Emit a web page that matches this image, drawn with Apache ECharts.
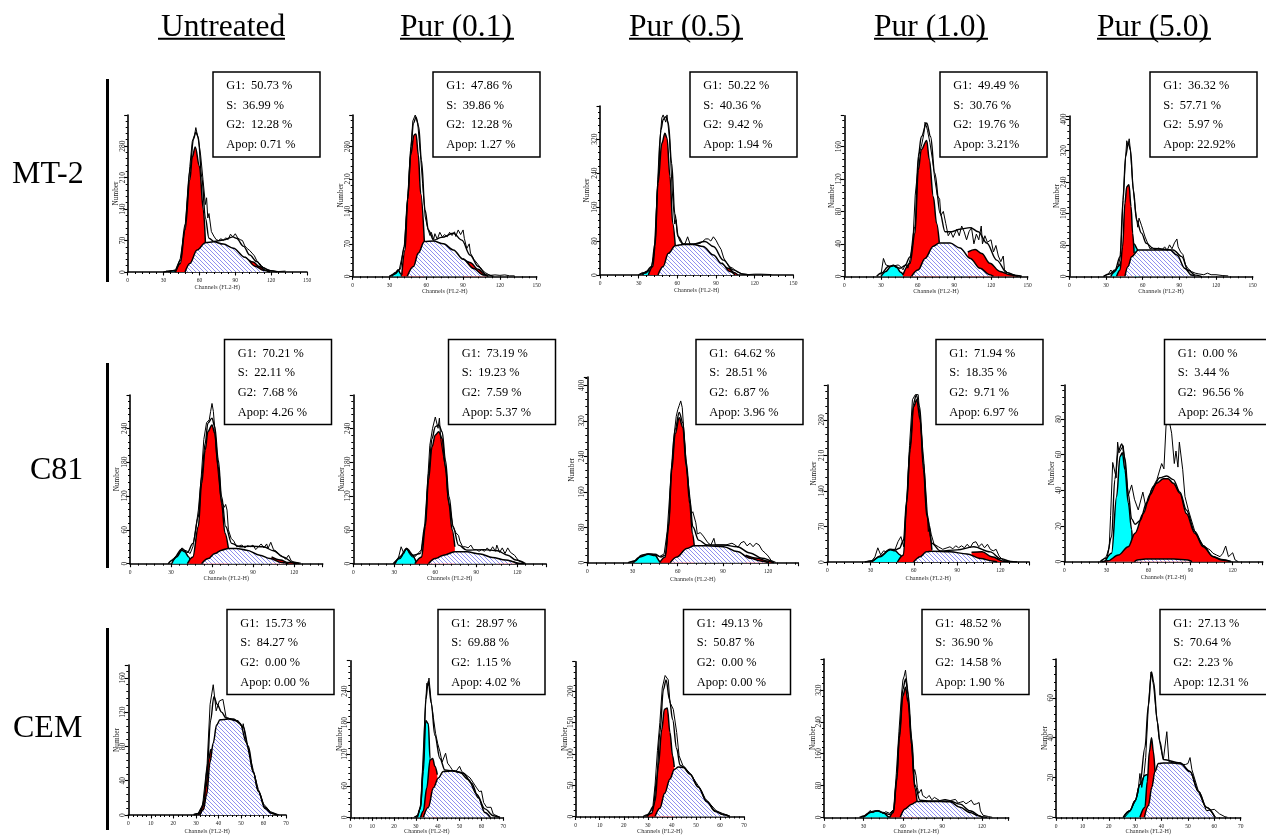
<!DOCTYPE html>
<html><head><meta charset="utf-8">
<script src="https://cdn.jsdelivr.net/npm/echarts@6/dist/echarts.min.js"></script>
<style>html,body{margin:0;padding:0;background:#fff}#c{width:1266px;height:835px}</style>
</head><body><div id="c"></div>
<script>
// ---------- text ----------
const columnTitles = ['Untreated','Pur (0.1)','Pur (0.5)','Pur (1.0)','Pur (5.0)'];
const rowTitles = ['MT-2','C81','CEM'];
const stats = [
 [[50.73,36.99,12.28,0.71],[47.86,39.86,12.28,1.27],[50.22,40.36,9.42,1.94],[49.49,30.76,19.76,3.21],[36.32,57.71,5.97,22.92]],
 [[70.21,22.11,7.68,4.26],[73.19,19.23,7.59,5.37],[64.62,28.51,6.87,3.96],[71.94,18.35,9.71,6.97],[0.00,3.44,96.56,26.34]],
 [[15.73,84.27,0.00,0.00],[28.97,69.88,1.15,4.02],[49.13,50.87,0.00,0.00],[48.52,36.90,14.58,1.90],[27.13,70.64,2.23,12.31]]
];
// ---------- MT-2 ----------
const mt2a_apop=[[34,0],[38,3],[41,0]];
const mt2a_g1=[[40,0],[44,19],[48,94],[52,205],[54,255],[56.5,278],[60,235],[63.3,138],[65,66]];
const mt2a_g2=[[98,33],[105,22],[110,12],[116,3],[119,0]];
const mt2a_s=[[48,0],[52,19],[58,49],[65,65],[72,67],[80,62],[88.4,53],[98,33],[106.5,13],[113.5,4],[119,0]];
const mt2a_model=[[30,0],[40,3],[44,25],[48,105],[52,225],[55,295],[57,311],[59,300],[62,210],[65,120],[68,75],[72,68],[80,71],[88,78],[91,75],[97,57],[102,38],[108,23],[113,10],[119,3],[125,0]];
const mt2a_raw=[[32,2],[36,2],[40,5],[44,30],[48,100],[52,235],[54,290],[56,305],[57,321],[59,295],[61,260],[63,205],[65,150],[66,165],[67,120],[68,130],[70,90],[72,80],[74,72],[76,70],[78,74],[80,70],[82,76],[84,72],[86,84],[88,78],[90,85],[92,76],[94,72],[96,70],[98,58],[100,52],[102,48],[104,42],[106,36],[108,25],[110,20],[112,14],[114,9],[116,6],[120,3],[126,1],[132,2]];

const mt2b_apop=[[32,0],[35,8],[37,14],[39,6],[40,0]];
const mt2b_g1=[[40,3],[42.7,57],[44.8,165],[47.3,262],[50,305],[51.6,307],[53.5,262],[55.4,179],[58.4,75]];
const mt2b_g2=[[90,38],[95.6,30],[102.4,15],[108,3],[110,0]];
const mt2b_s=[[44.5,0],[49.5,21],[53.5,50],[58.4,75],[65.8,76],[74,70],[82,57],[90,37],[98.4,17],[106.5,3],[110.6,0]];
const mt2b_model=[[30,0],[34.5,5],[38.6,15],[42,64],[45,172],[47.5,280],[49.5,330],[51.6,343],[53.8,323],[56,251],[59,143],[61.7,100],[66,78],[72.6,84],[82,93],[89,78],[95.6,46],[102.4,21],[109,3],[114.7,0]];
const mt2b_raw=[[30,1],[34,4],[38,15],[42,64],[45,178],[47,260],[49,335],[51,348],[53,330],[55,270],[57,200],[59,130],[61,105],[63,88],[64,95],[66,80],[67,92],[69,80],[71,95],[73,85],[75,90],[77,85],[79,95],[81,88],[83,96],[84,86],[86,100],[88,90],[90,100],[91,82],[93,60],[95,70],[96,50],[99,36],[102,26],[105,15],[108,8],[112,2],[116,3],[120,2],[124,3],[128,1],[132,1]];

const mt2c_apop=[[33,0],[36,8],[38,10],[40,0]];
const mt2c_g1=[[37.5,0],[41,20],[42.7,67],[45,216],[48,310],[50.4,334],[52,322],[54.3,232],[56.4,122],[58.4,69]];
const mt2c_g2=[[94.4,29],[99.6,16],[104,6],[107,0]];
const mt2c_s=[[45,0],[49,20],[53,51],[58.4,69],[64.6,72],[72.4,72],[80,67],[88,47],[94.4,27],[100.9,8],[104.7,0]];
const mt2c_model=[[30,0],[35,5],[40,20],[42.7,75],[45,224],[47.3,342],[49,366],[51,373],[53,358],[55.6,263],[58,145],[60.8,90],[64.6,73],[72.4,73],[81.5,79],[88,67],[95.7,35],[103.4,12],[111,2],[116,0]];
const mt2c_raw=[[30,1],[33,6],[36,4],[38,12],[40,20],[42,50],[44,170],[46,300],[48,370],[49,377],[51,360],[52,377],[54,320],[56,200],[58,120],[59,130],[60,95],[62,80],[64,72],[66,74],[68,90],[70,72],[74,72],[78,75],[80,80],[82,85],[84,85],[86,80],[88,90],[90,82],[92,70],[94,60],[96,40],[98,30],[100,20],[103,16],[106,8],[110,3],[115,1],[120,2],[125,2],[133,1]];

const mt2d_apop=[[30,0],[34,6],[38,12],[40,13.5],[43,11],[46,5],[49,0]];
const mt2d_g1=[[48,2],[53.7,16],[57.8,53],[60.5,131],[63,156],[67.4,167.5],[69.5,144],[72.8,98],[75.5,65],[77.7,41.5]];
const mt2d_g2=[[101,30],[107,33],[112.4,28],[119,16],[127.4,6],[135.5,2],[142,0]];
const mt2d_s=[[55,0],[60.5,8],[66,22],[72.8,37],[77.7,41],[86.5,41],[94.6,35],[103,22],[111,10],[119,2],[122,0]];
const mt2d_model=[[26.5,0],[30.5,4],[36,12],[40,13.5],[45.5,10],[49.6,13],[53.7,24],[57.8,61],[60.5,148],[63,172],[67.4,189],[70.6,172],[74,127],[78.3,78],[82.4,55],[88,55],[94.6,58],[103,60],[109.6,55],[116.5,41],[124.6,20],[133,4.5],[141,1],[145,0]];
const mt2d_raw=[[30,2],[32,22],[34,14],[38,12],[41,13],[44,14],[46,12],[48,8],[50,15],[52,10],[54,22],[56,40],[58,100],[60,130],[61,150],[63,160],[65,175],[66,190],[67,186],[68,180],[70,165],[72,145],[74,120],[76,100],[78,95],[79,75],[81,80],[83,65],[85,50],[87,55],[89,48],[92,58],[94,50],[96,62],[98,55],[100,45],[102,55],[104,60],[106,40],[108,52],[110,45],[112,62],[113,40],[115,50],[117,42],[120,45],[122,30],[124,38],[126,25],[128,18],[130,25],[131,8],[134,4],[140,1],[145,0]];

const mt2e_apop=[[34,0],[37,12],[40,25],[45,50],[50,75],[53,82],[56,68],[57,0]];
const mt2e_g1=[[38.7,0],[41.5,16],[43.6,75],[45.5,186],[47,228],[48.8,233],[50.5,177],[51.8,110],[53,59]];
const mt2e_g2=[];
const mt2e_s=[[45.5,0],[48,25],[51,50],[56.5,67],[66,67],[82.4,67],[88,54],[94.6,20],[100,3],[103,0]];
const mt2e_model=[[28,0],[33,6],[37.4,16],[41.5,50],[44,194],[46,305],[48.3,339],[50,322],[52.4,220],[55,143],[59,110],[63,84],[68.7,71],[77,69],[85,67],[92,50],[97,16],[103,3],[108,0]];
const mt2e_raw=[[28,0],[32,6],[34,16],[36,8],[38,14],[40,25],[42,55],[44,200],[46,300],[47,345],[48,335],[49,350],[50,320],[52,230],[54,170],[56,125],[57,148],[59,130],[60,120],[62,100],[64,85],[66,70],[68,72],[70,68],[73,72],[76,68],[78,75],[80,66],[82,80],[84,70],[86,85],[88,95],[89,75],[91,62],[93,55],[95,30],[97,20],[100,12],[103,8],[106,6],[110,4],[113,8],[116,4],[120,4],[125,2],[130,1]];
// ---------- C81 ----------
const c81a_apop=[[30.5,0],[34,12],[38,24],[40,21],[43,12],[44.4,0]];
const c81a_g1=[[42,0],[46,12],[50,66],[52.4,142],[55,201],[57,234],[60,246],[62,231],[64.6,172],[67,107],[69.5,54],[72,27]];
const c81a_g2=[[103.6,12],[110,6.5],[116,2],[122,0]];
const c81a_s=[[52.4,0],[57.3,9],[62,18],[67,24],[72,27],[78,27],[85.4,24],[95,15],[102.4,9],[111,2],[116,0]];
const c81a_model=[[28,0],[31,6],[38,26],[42,20],[46,36],[50,83],[52.4,154],[55,213],[57,249],[60,258],[62,243],[64.6,184],[67,119],[70,66],[74.4,36],[80.5,30],[88,31],[97.6,30],[105,23],[112,12],[119.5,2],[124,0]];
const c81a_raw=[[28,0],[32,10],[34,14],[36,20],[38,28],[40,24],[42,22],[44,18],[46,30],[48,60],[50,95],[52,150],[54,220],[56,250],[57,252],[58,255],[59,270],[60,284],[61,270],[62,240],[63,200],[64,175],[66,125],[67,110],[69,100],[70,105],[71,95],[72,60],[74,45],[76,40],[78,30],[80,32],[82,33],[84,28],[86,32],[88,30],[90,33],[92,25],[94,30],[96,35],[98,28],[100,35],[101,27],[103,38],[105,25],[107,22],[110,15],[112,12],[114,8],[116,15],[118,5],[120,3],[125,1]];

const c81b_apop=[[30.6,0],[34,12],[39,26],[43,15],[46.5,0]];
const c81b_g1=[[45,0],[50,12],[52.7,66],[55,148],[57.6,207],[60,228],[62.5,234],[65,222],[67.4,172],[69.9,107],[72.3,60],[74.3,30]];
const c81b_g2=[[105.5,9],[113,5],[121,1],[125,0]];
const c81b_s=[[55,0],[60,9],[66,15],[74.3,21],[83,21],[93,17],[101.7,11],[111.5,6.5],[120,0]];
const c81b_model=[[29.4,0],[34,9],[39,27],[44,15],[49,18],[52.7,71],[55,160],[57.6,222],[60,243],[62.5,246],[65,234],[67.4,184],[70,119],[73,66],[77,33],[83,24],[95.6,25],[105.4,23],[113,15],[119,6.5],[126,0]];
const c81b_raw=[[29,0],[33,10],[35,30],[37,18],[39,28],[41,18],[43,12],[45,12],[48,20],[50,25],[52,60],[54,130],[56,210],[58,240],[60,260],[61,262],[62,240],[63,258],[64,220],[66,190],[68,160],[69,120],[71,95],[73,65],[75,55],[77,50],[78,40],[80,30],[82,30],[84,28],[86,33],[88,25],[90,25],[92,22],[94,25],[96,22],[98,28],[100,22],[102,30],[104,22],[105,33],[107,20],[109,28],[111,18],[113,28],[115,20],[118,15],[121,5],[125,1]];

const c81c_apop=[[30.6,0],[35,13],[40.6,19],[45,16],[48.4,2],[49.5,0]];
const c81c_g1=[[48,0],[51.7,13],[54,81],[56,208],[58.3,290],[61,327],[63.4,305],[65.7,215],[68,133],[69.7,66],[71,38]];
const c81c_g2=[[105,17],[112.7,10],[119.4,4],[123.8,0]];
const c81c_s=[[55,0],[59.4,13],[66,32],[71,38],[79.4,38],[90.5,36],[99.4,25],[108,10],[115,4],[120.5,0]];
const c81c_model=[[27,0],[31.7,4],[36,17],[40.6,20],[45,19],[48.8,13],[51.7,17],[54,88],[56,220],[58.3,301],[61,339],[63.4,316],[65.7,227],[68,144],[70,81],[73.9,51],[79.4,40],[90.5,40],[99.4,36],[108,22],[116,10],[123.8,0]];
const c81c_raw=[[27,0],[32,5],[36,16],[40,20],[44,18],[48,14],[51,20],[53,70],[55,170],[57,270],[59,330],[60,345],[61,355],[62,365],[63,350],[64,300],[66,210],[68,150],[69,110],[70,115],[72,90],[73,65],[75,68],[77,60],[78,62],[80,45],[82,40],[84,55],[85,40],[88,40],[92,40],[96,44],[98,40],[100,35],[102,45],[104,48],[106,38],[108,44],[110,36],[112,44],[114,40],[116,28],[118,22],[120,15],[122,5],[125,1]];

const c81d_apop=[[30.8,0],[36.6,10.5],[43.5,24],[47,22],[50.5,14],[52.8,0]];
const c81d_g1=[[48.6,0],[52.8,14],[55,116],[57.4,221],[59.8,306],[62,320],[64.4,280],[66.7,181],[69,89],[72.5,24]];
const c81d_g2=[[100,19],[107.3,20],[114,10.5],[122.3,1.3],[125.8,0]];
const c81d_s=[[59.8,0],[64.4,10.5],[68.6,20],[72.5,21],[85,20],[96.8,16],[106,7],[115.4,1.3],[117.7,0]];
const c81d_model=[[26,0],[30.8,2],[36.6,12],[43.5,25],[47,24],[50,27],[52.8,43],[55,122],[57.4,228],[59.8,313],[61.6,329],[64,306],[66.7,195],[69,96],[72.5,37],[78.3,22],[90,24],[101.5,30],[113,20],[120,7],[127,1],[131.6,0]];
const c81d_raw=[[26,0],[31,3],[33,10],[35,28],[37,14],[39,22],[41,20],[44,25],[47,25],[49,40],[51,50],[53,30],[55,120],[57,230],[59,320],[61,330],[62,332],[63,330],[65,260],[67,195],[69,110],[70,60],[71,70],[72,55],[74,35],[77,30],[80,25],[83,28],[85,30],[87,26],[89,32],[91,28],[93,32],[95,28],[97,35],[99,28],[101,38],[103,40],[105,30],[107,36],[109,28],[111,35],[113,25],[115,22],[117,25],[119,12],[122,3],[127,1]];

const c81e_apop=[[29,0],[33.7,4.7],[37.3,36.5],[39.7,59],[41.4,61],[43.2,51.5],[45.6,33],[48,18],[48.7,10],[49,0]];
const c81e_g1=[[26.6,0],[31,0.5],[38.5,3.7],[45.6,8.4],[50.4,16],[56.3,27],[61,37.5],[65.8,44],[70.6,46.5],[74,46.5],[77.7,44],[82.4,38.4],[87,27],[93,16],[99,8.4],[106,2.8],[112,1],[119,0]];
const c81e_g2=[];
const c81e_s=[[50,0],[52,1],[58,1.5],[78,1.5],[88,1],[91,0]];
const c81e_model=[[25.4,0],[30,2],[33.7,14],[36,46],[38.5,62],[41,66],[43.2,58],[45.6,38],[48,24],[50.4,21],[54,23],[58.7,33],[63.4,42],[68,47],[73,48],[77.7,46],[82.4,39],[87,29],[93,17],[99,9],[106,3],[112,1.3],[119,0]];
const c81e_raw=[[26,0],[30,3],[32,8],[33,26],[34.5,55.6],[37,47],[38,67],[39,61],[42,65],[44,50],[45.6,37],[48,43],[50,35],[52.7,29],[56,39],[58,31],[62,40],[66,46],[69.4,55],[71,52],[72.5,76],[74,82],[76.5,72],[78.4,55],[79.6,62],[81,53],[82,67],[84.4,51.5],[86,36.5],[88.4,29],[93,17],[99,9],[104,6.5],[106,4.7],[108.6,3.7],[111,2.8],[113,4.7],[115,8.8],[117,2.8],[120,5],[121.7,1],[124,0]];
// ---------- CEM ----------
const cema_apop=[];
const cema_g1=[[31.2,0],[33,9],[34.5,32],[35.7,65],[36.6,76],[37.3,77]];
const cema_g2=[];
const cema_s=[[31.8,0],[33.3,6],[34.8,24],[36.3,62],[37.7,84],[39.2,105],[40.7,111],[44.4,112],[48,110],[51,103],[53.3,80],[55.5,50],[57.7,28],[60.7,7.5],[63.6,2],[65.9,0]];
const cema_model=[[29,0],[32,2],[33.6,17],[35,54],[36.5,110],[38,138],[39.5,129],[41.4,120],[43.4,113],[46.6,112],[49.6,107],[52.5,84],[55.5,50],[57.7,28],[60.7,9],[63.6,2],[66,0]];
const cema_raw=[[29,1],[31,2],[33,12],[35,60],[36.3,129],[37.7,152],[39,121.5],[40.4,133],[42,135],[43.4,114],[46.6,111],[48.8,110],[50.8,101],[51,106.5],[52.5,84],[55.5,52],[57.7,30],[60,13],[63,4],[66,1],[67,0]];

const cemb_apop=[[30.7,0],[32,16],[33.4,87],[34.5,184],[35.7,178],[36.5,112],[37,60],[38,0]];
const cemb_g1=[[32.2,0],[33.4,12],[35,56],[36.5,109],[37.7,112],[38.7,97],[39.8,81]];
const cemb_g2=[];
const cemb_s=[[33.4,0],[35.7,19],[38,56],[40.3,75],[42.5,87],[47,88.5],[51.7,84],[55.5,65],[58.6,37],[61.6,9],[64,0]];
const cemb_model=[[29.6,0],[30.7,3],[32.2,19],[33.4,100],[34.5,224],[35.7,259],[37,218],[38.7,156],[41,112],[43.3,90],[46.4,88.5],[50,86],[54,72],[57.8,44],[61.6,16],[65.4,3],[68.5,0]];
const cemb_raw=[[29,0],[31,4],[32.2,25],[33,90],[34,180],[35,255],[35.5,250],[36,265],[37,220],[38,190],[39,160],[40,140],[41,125],[42,105],[43.6,122],[44.5,103],[45.6,97],[47,88],[48.3,87],[50,97],[51,87],[54.8,75],[57.8,56],[59,49],[60,50],[61,28],[62.4,19],[64.4,19],[65.4,6],[68.5,0]];

const cemc_apop=[];
const cemc_g1=[[29.5,0],[31.6,5],[33,24],[34.4,82],[35.8,139],[36.9,171],[38.1,173],[39.2,134],[40.3,97],[41,79]];
const cemc_g2=[];
const cemc_s=[[33,0],[35,13],[37,37],[39.2,60],[41,75],[42.7,79],[44.8,78],[47.5,68],[51,47],[54.5,24],[58,8],[61.4,3],[64,0]];
const cemc_model=[[28,0],[30,3],[32.3,16],[33.7,60],[35,134],[36.5,203],[37.6,218],[39,187],[40.3,155],[42,108],[43.4,82],[44.8,79],[47.5,68],[51,47],[54.5,24],[58,9],[61.4,3],[64,0]];
const cemc_raw=[[29,0],[32,12],[33,50],[34,105],[35,150],[36,205],[37.2,225],[38.5,218],[39.2,182],[40.6,171],[42,134],[43,97],[44.5,82],[47.5,69],[51,49],[52.8,37],[53.8,29],[58.5,9],[61,5],[64,1]];

const cemd_apop=[[30,0],[35,12],[40,16.5],[45,12],[49,1.6],[50,0]];
const cemd_g1=[[50,0],[52.8,12],[55.3,91],[57.3,198],[60,305],[62,327],[64,289],[66.7,181],[69,74],[70.8,40]];
const cemd_g2=[];
const cemd_s=[[58,0],[61.6,21],[66.7,33],[70.8,40],[81,40],[96,39],[103.5,25],[111,12],[117.5,4],[120.5,0]];
const cemd_model=[[27,0],[31,4],[36,14],[41,16.5],[46,10],[50,7],[53,16.5],[55.3,99],[57.3,206],[60,322],[62,348],[64,309],[66.7,198],[69,82],[73,43],[81,41],[96,41],[103.5,33],[111,16.5],[120,1.6],[124,0]];
const cemd_raw=[[28,0],[32,4],[35,17],[37,12],[41,17],[45,10],[47,14],[50,10],[53,20],[55,110],[57,215],[59,310],[60,345],[61,355],[62,370],[63,375],[64,310],[66,215],[68,110],[69,120],[70,105],[71,75],[72,60],[74,70],[75,55],[76,60],[78,48],[80,55],[82,44],[84,50],[88,42],[92,45],[96,42],[100,45],[102,36],[104,38],[106,40],[108,34],[110,38],[112,43],[114,32],[116,34],[118,37],[119,16],[121,5],[125,2],[128,0]];

const ceme_apop=[[25.5,0],[28,3.3],[30,8.3],[31.8,16.5],[33.7,21],[34.6,21.5],[36,10],[37,0]];
const ceme_g1=[[31.8,0],[33.7,5],[34.6,18],[35.4,33],[36.2,40],[36.9,33],[37.5,23]];
const ceme_g2=[];
const ceme_s=[[33.5,0],[35,5.8],[36.3,15],[37.5,23],[38.8,27],[40.7,27.3],[47,27.3],[50.8,23],[54,13],[57,5],[60.3,0]];
const ceme_model=[[25.5,0],[28,3.3],[30,8.3],[31.8,16.5],[33.7,35],[35,56],[36.2,73],[37,68],[38.4,48],[39.4,38],[40.7,29],[47,27.3],[50.8,23],[54,13],[57,5],[60.3,0]];
const ceme_raw=[[26,0],[28,3],[30,8],[31,12],[31.8,22],[32.5,15],[33.4,22],[34,30],[35,56],[36,73],[37,66],[38,52],[38.5,47],[39,40],[39.7,35],[40.7,29],[42,43],[42.8,28],[45,27],[49,26.5],[50,27],[50.8,30],[51.5,24],[54,13],[57,3.3],[60,4],[62,1.7],[64,0.3],[65,0]];

const panelData = [
 [[mt2a_apop,mt2a_g1,mt2a_g2,mt2a_s,mt2a_model,mt2a_raw],[mt2b_apop,mt2b_g1,mt2b_g2,mt2b_s,mt2b_model,mt2b_raw],[mt2c_apop,mt2c_g1,mt2c_g2,mt2c_s,mt2c_model,mt2c_raw],[mt2d_apop,mt2d_g1,mt2d_g2,mt2d_s,mt2d_model,mt2d_raw],[mt2e_apop,mt2e_g1,mt2e_g2,mt2e_s,mt2e_model,mt2e_raw]],
 [[c81a_apop,c81a_g1,c81a_g2,c81a_s,c81a_model,c81a_raw],[c81b_apop,c81b_g1,c81b_g2,c81b_s,c81b_model,c81b_raw],[c81c_apop,c81c_g1,c81c_g2,c81c_s,c81c_model,c81c_raw],[c81d_apop,c81d_g1,c81d_g2,c81d_s,c81d_model,c81d_raw],[c81e_apop,c81e_g1,c81e_g2,c81e_s,c81e_model,c81e_raw]],
 [[cema_apop,cema_g1,cema_g2,cema_s,cema_model,cema_raw],[cemb_apop,cemb_g1,cemb_g2,cemb_s,cemb_model,cemb_raw],[cemc_apop,cemc_g1,cemc_g2,cemc_s,cemc_model,cemc_raw],[cemd_apop,cemd_g1,cemd_g2,cemd_s,cemd_model,cemd_raw],[ceme_apop,ceme_g1,ceme_g2,ceme_s,ceme_model,ceme_raw]]
];
// ---------- layout: x0, xEnd, yTop, y0, xMax, yMax, xInterval, yInterval, top labelled y, x-name gap, y-name gap ----------
const panelLayout = [
 [[127.7,307,115,272,150,349,30,70,280,12,8.3],[352.7,536.7,115,276.3,150,348,30,70,280,12,8.3],[600,793.3,106,275,150,398,30,80,320,12,9.3],[844.3,1027.7,115.7,276.3,150,198,30,40,160,12,8.3],[1069.3,1252.7,116,276.3,150,408,30,80,400,12,8.3]],
 [[130,322.7,395,563.7,141,299,30,60,240,12,9.6],[353.3,546,395,563.7,141,299,30,60,240,12,8],[587.3,798.3,377,562.7,140,419,30,80,400,14,11.3],[827.3,1029.3,385,562,140,349,30,70,280,13,9.3],[1064.3,1262.7,385,561.7,141.4,99,30,20,80,13,9]],
 [[128.3,286,665,821.7,70,175,10,40,160,13,7.3],[350.3,503.3,660.7,820,70,298,10,60,240,10.7,6.6],[575.7,744,661.7,818.3,70,247,10,50,200,11.5,7],[824,1008.7,659,820,140.5,398,30,80,320,10.7,7.6],[1056,1240.7,659,820,70,79.5,10,20,60,10.7,7.3]]
];
const boxLeft = [[213,433,690,940,1150],[224.5,448.5,696,936,1164.5],[227,438,683.5,922,1160]];
const boxTop = [72,339.5,609.5];
const boxW = 107, boxH = 85;
const rowLabelPos = [[12,175],[30,471],[13,729]];
const rowBars = [[79,282],[363,568],[628,830]];
const colTitleX = [160,400,629,874,1097];
const colTitleW = [125,114,114,114,114];

const FONT = '"Liberation Serif","Times New Roman",serif';
function hatch(){
  const c=document.createElement('canvas');c.width=4;c.height=4;
  const g=c.getContext('2d');g.fillStyle='#fff';g.fillRect(0,0,4,4);
  g.strokeStyle='#8f8ff0';g.lineWidth=1;
  g.beginPath();g.moveTo(-1,-1);g.lineTo(5,5);g.moveTo(-1,3);g.lineTo(1,5);g.moveTo(3,-1);g.lineTo(5,1);g.stroke();
  return c;
}
const hatchImg=hatch();

const grid=[],xAxis=[],yAxis=[],series=[],graphic=[];
panelLayout.forEach((row,r)=>row.forEach((L,c)=>{
  const [x0,xE,yT,y0,xMax,yMax,xI,yI,yTopLab,xGap,yGap]=L;
  const i=grid.length;
  grid.push({left:x0,top:yT,width:xE-x0,height:y0-yT,containLabel:false});
  const axisLine={show:true,onZero:false,lineStyle:{color:'#000',width:1.6}};
  xAxis.push({type:'value',gridIndex:i,min:0,max:xMax,interval:xI,splitLine:{show:false},axisLine,
    axisTick:{show:true,length:3.5,lineStyle:{color:'#000',width:1.1}},
    minorTick:{show:true,splitNumber:5,length:2,lineStyle:{color:'#000',width:1}},
    axisLabel:{fontFamily:FONT,fontSize:5.5,color:'#222',margin:6,hideOverlap:false,
      formatter:v=>(v%xI===0?String(v):'')},
    name:'Channels (FL2-H)',nameLocation:'middle',nameGap:xGap,nameMoveOverlap:false,
    nameTextStyle:{fontFamily:FONT,fontSize:6.2,color:'#333'}});
  yAxis.push({type:'value',gridIndex:i,min:0,max:yMax,interval:yI,splitLine:{show:false},axisLine,
    axisTick:{show:true,length:3.5,lineStyle:{color:'#000',width:1.1}},
    minorTick:{show:true,splitNumber:5,length:2,lineStyle:{color:'#000',width:1}},
    axisLabel:{fontFamily:FONT,fontSize:7.5,color:'#222',margin:1,rotate:90,hideOverlap:false,
      formatter:v=>(v%yI===0&&v<=yTopLab?String(v):'')},
    name:'Number',nameLocation:'middle',nameGap:yGap,nameRotate:90,nameMoveOverlap:false,
    nameTextStyle:{fontFamily:FONT,fontSize:7.3,color:'#222'}});
  const D=panelData[r][c];
  const mk=(data,z,opt)=>({type:'line',xAxisIndex:i,yAxisIndex:i,data,z,symbol:'none',silent:true,animation:false,
    smooth:0.35,smoothMonotone:'x',lineStyle:{color:'#000',width:1.5},...opt});
  series.push(mk(D[0],2,{areaStyle:{color:'#00ffff',opacity:1}}));
  series.push(mk(D[1],3,{areaStyle:{color:'#ff0000',opacity:1}}));
  series.push(mk(D[2],3,{areaStyle:{color:'#ff0000',opacity:1}}));
  series.push(mk(D[3],4,{areaStyle:{color:{image:hatchImg,repeat:'repeat'},opacity:1}}));
  series.push(mk(D[4],5,{lineStyle:{color:'#000',width:1.4}}));
  series.push(mk(D[5],6,{smooth:false,lineStyle:{color:'#000',width:1}}));
  // stat box
  const bx=boxLeft[r][c],by=boxTop[r],s=stats[r][c];
  graphic.push({type:'rect',z:50,shape:{x:bx,y:by,width:boxW,height:boxH},style:{fill:'#fff',stroke:'#000',lineWidth:1.5}});
  const lines=['G1:  '+s[0].toFixed(2)+' %','S:  '+s[1].toFixed(2)+' %','G2:  '+s[2].toFixed(2)+' %','Apop: '+s[3].toFixed(2)+((r===0&&c>=3)?'%':' %')];
  lines.forEach((t,k)=>graphic.push({type:'text',z:51,x:bx+13.3,y:by+14+k*19.6,
    style:{text:t,font:'12.4px '+FONT,fill:'#000',verticalAlign:'middle'}}));
}));
columnTitles.forEach((t,k)=>{
  graphic.push({type:'text',z:51,x:colTitleX[k]+(k===0?1:0),y:27.5,style:{text:t,font:'31.5px '+FONT,fill:'#000',verticalAlign:'middle'}});
  graphic.push({type:'line',z:51,shape:{x1:colTitleX[k]-(k===0?2:0),y1:38.7,x2:colTitleX[k]+colTitleW[k],y2:38.7},style:{stroke:'#000',lineWidth:2}});
});
rowTitles.forEach((t,k)=>{
  graphic.push({type:'text',z:51,x:rowLabelPos[k][0],y:rowLabelPos[k][1],style:{text:t,font:'32px '+FONT,fill:'#000',verticalAlign:'middle'}});
  graphic.push({type:'rect',z:51,shape:{x:106,y:rowBars[k][0],width:3,height:rowBars[k][1]-rowBars[k][0]},style:{fill:'#000'}});
});

const chart=echarts.init(document.getElementById('c'),null,{renderer:'canvas'});
chart.setOption({animation:false,backgroundColor:'#fff',grid,xAxis,yAxis,series,graphic});
</script></body></html>
